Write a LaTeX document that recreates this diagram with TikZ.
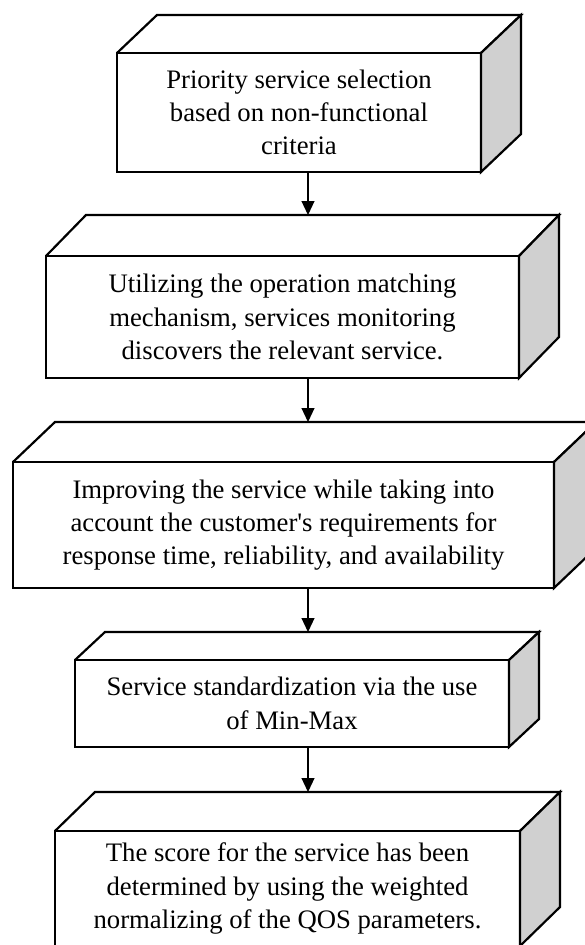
\documentclass[tikz,border=0pt]{standalone}
\usepackage{fontspec}
\setmainfont{Liberation Serif}
\usetikzlibrary{calc,arrows.meta}
\definecolor{sidegray}{RGB}{208,208,208}
\newcommand\boxfaces[3]{%
  \draw[edge] (#1.north west) -- ++(#2,-#3) -- ($(#1.north east)+(#2,-#3)$) -- (#1.north east);
  \filldraw[edge, fill=sidegray] (#1.north east) -- ++(#2,-#3) -- ($(#1.south east)+(#2,-#3)$) -- (#1.south east) -- cycle;
  \coordinate (#1back) at ($(#1.north west)+(#2,-#3)$);
}
\begin{document}
\begin{tikzpicture}[x=1pt,y=-1pt,
  edge/.style={draw=black, line width=2.2pt, line join=miter},
  frontface/.style={draw=black, fill=white, line width=2.2pt, inner sep=0pt, outer sep=0pt,
    align=center, font=\fontsize{26.7}{33.3}\selectfont},
  arr/.style={line width=1.1pt, -{Triangle[length=14pt,width=13pt]}}]
\path[use as bounding box] (0,0) rectangle (585,945);
\clip (0,0) rectangle (585,945);
\coordinate (ax) at (308,0);

\node[frontface, minimum width=364pt, minimum height=119pt] (b1) at (299,112.5)
  {Priority service selection\\based on non-functional\\criteria};
\boxfaces{b1}{40}{38}

\node[frontface, minimum width=473pt, minimum height=122pt] (b2) at (282.5,317)
  {Utilizing the operation matching\\mechanism, services monitoring\\discovers the relevant service.};
\boxfaces{b2}{40}{41}

\node[frontface, minimum width=541pt, minimum height=126pt] (b3) at (283.5,525)
  {Improving the service while taking into\\account the customer\textquotesingle s requirements for\\response time, reliability, and availability};
\boxfaces{b3}{42}{40}

\node[frontface, minimum width=434pt, minimum height=87pt] (b4) at (292,703.5)
  {Service standardization via the use\\of Min-Max};
\boxfaces{b4}{30}{28}

\node[frontface, minimum width=465pt, minimum height=115pt] (b5) at (287.5,888.5)
  {The score for the service has been\\determined by using the weighted\\normalizing of the QOS parameters.};
\boxfaces{b5}{40}{39}

\draw[arr] (ax |- b1.south) -- (ax |- b2back);
\draw[arr] (ax |- b2.south) -- (ax |- b3back);
\draw[arr] (ax |- b3.south) -- (ax |- b4back);
\draw[arr] (ax |- b4.south) -- (ax |- b5back);
\end{tikzpicture}
\end{document}
